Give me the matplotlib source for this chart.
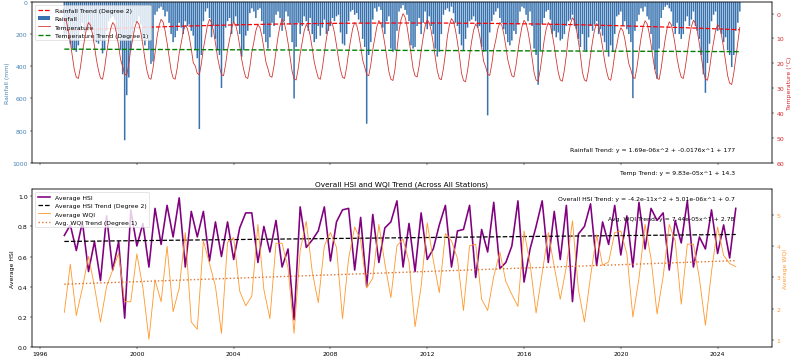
import numpy as np
import pandas as pd
import matplotlib
matplotlib.use("Agg")
import matplotlib.pyplot as plt
import matplotlib.dates as mdates

# monthly rainfall (mm), Jan..Dec, one line per year 1997-2024
rainfall_mm = [
    230, 200, 160, 260, 290, 300, 310, 270, 170, 130, 190, 160,
    180, 150, 170, 240, 250, 260, 240, 320, 300, 180, 120, 100,
    90, 110, 180, 200, 300, 450, 860, 580, 470, 300, 200, 130,
    120, 90, 140, 230, 270, 200, 300, 385, 370, 80, 60, 40,
    30, 50, 90, 60, 130, 200, 250, 220, 180, 130, 160, 200,
    120, 150, 140, 180, 210, 300, 350, 790, 330, 120, 60, 40,
    100, 220, 150, 230, 300, 330, 535, 300, 160, 120, 100, 200,
    130, 90, 150, 200, 340, 300, 210, 180, 70, 40, 60, 100,
    50, 40, 120, 200, 250, 290, 220, 130, 150, 80, 60, 100,
    180, 120, 60, 90, 140, 250, 600, 280, 130, 200, 150, 90,
    120, 180, 100, 200, 250, 230, 150, 210, 160, 110, 200, 180,
    150, 100, 120, 90, 80, 190, 260, 270, 200, 120, 60, 50,
    80, 70, 110, 130, 230, 280, 757, 330, 250, 110, 40, 60,
    30, 50, 160, 200, 120, 90, 290, 310, 300, 180, 60, 40,
    20, 50, 80, 120, 270, 290, 280, 150, 100, 200, 130, 60,
    170, 90, 150, 200, 290, 340, 310, 200, 80, 50, 40, 60,
    30, 70, 130, 150, 200, 270, 300, 230, 160, 120, 110, 90,
    120, 160, 150, 280, 310, 300, 705, 190, 120, 80, 60, 40,
    100, 130, 170, 200, 250, 270, 240, 180, 200, 140, 60, 30,
    40, 80, 120, 60, 150, 290, 330, 515, 300, 140, 100, 60,
    50, 110, 200, 180, 220, 190, 240, 230, 200, 150, 120, 110,
    80, 150, 170, 230, 280, 200, 300, 310, 220, 150, 180, 140,
    120, 200, 170, 210, 250, 300, 340, 270, 310, 200, 90, 80,
    60, 150, 120, 170, 200, 250, 598, 180, 120, 80, 40, 60,
    30, 90, 110, 200, 300, 420, 477, 290, 100, 50, 30, 20,
    40, 60, 150, 200, 130, 200, 230, 200, 120, 90, 150, 110,
    60, 150, 180, 230, 330, 450, 565, 380, 260, 120, 80, 60,
    180, 160, 200, 250, 220, 300, 330, 405, 330, 180, 130, 60,
]

# monthly mean temperature (deg C), same months
temperature_c = [
    2.0, 3.2, 6.5, 11.5, 17.0, 22.6, 25.6, 26.1, 21.6, 15.6, 10.6, 6.1,
    3.6, 4.8, 8.1, 13.1, 18.6, 22.9, 25.9, 26.4, 21.9, 15.9, 10.6, 6.1,
    3.6, 4.8, 8.1, 13.1, 18.6, 21.3, 24.3, 24.8, 20.3, 14.3, 10.1, 5.6,
    3.1, 4.3, 7.6, 12.6, 18.1, 22.9, 25.9, 26.4, 21.9, 15.9, 9.3, 4.8,
    2.3, 3.5, 6.8, 11.8, 17.3, 22.9, 25.9, 26.4, 21.9, 15.9, 11.7, 7.2,
    4.7, 5.9, 9.2, 14.2, 19.7, 21.1, 24.1, 24.6, 20.1, 14.1, 9.3, 4.8,
    2.3, 3.5, 6.8, 11.8, 17.3, 21.5, 24.5, 25.0, 20.5, 14.5, 10.4, 5.9,
    3.4, 4.6, 7.9, 12.9, 18.4, 22.6, 25.6, 26.1, 21.6, 15.6, 11.4, 6.9,
    4.4, 5.6, 8.9, 13.9, 19.4, 22.1, 25.1, 25.6, 21.1, 15.1, 9.3, 4.8,
    2.3, 3.5, 6.8, 11.8, 17.3, 23.2, 26.2, 26.7, 22.2, 16.2, 11.4, 6.9,
    4.4, 5.6, 8.9, 13.9, 19.4, 22.9, 25.9, 26.4, 21.9, 15.9, 10.1, 5.6,
    3.1, 4.3, 7.6, 12.6, 18.1, 22.6, 25.6, 26.1, 21.6, 15.6, 10.6, 6.1,
    3.6, 4.8, 8.1, 13.1, 18.6, 21.5, 24.5, 25.0, 20.5, 14.5, 9.8, 5.3,
    2.8, 4.0, 7.3, 12.3, 17.8, 23.4, 26.4, 26.9, 22.4, 14.5, 7.0, 2.5,
    0.0, 1.5, 5.0, 10.5, 16.0, 22.0, 25.0, 25.5, 21.0, 15.0, 9.5, 5.0,
    2.5, 3.7, 7.0, 12.0, 17.5, 23.1, 26.1, 26.6, 22.1, 16.1, 9.0, 4.5,
    2.0, 3.2, 6.5, 11.5, 17.0, 23.9, 26.9, 27.4, 22.9, 16.9, 11.2, 6.7,
    4.2, 5.4, 8.7, 13.7, 19.2, 21.4, 24.4, 24.9, 20.4, 14.4, 10.6, 6.1,
    3.6, 4.8, 8.1, 13.1, 18.6, 22.0, 25.0, 25.5, 21.0, 15.0, 9.7, 5.2,
    2.7, 3.9, 7.2, 12.2, 17.7, 23.7, 26.7, 27.2, 22.7, 16.7, 10.6, 6.1,
    3.6, 4.8, 8.1, 13.1, 18.6, 23.7, 26.7, 27.2, 22.7, 16.7, 8.7, 4.2,
    1.7, 2.9, 6.2, 11.2, 16.7, 23.7, 26.7, 27.2, 22.7, 16.7, 11.0, 6.5,
    4.0, 5.2, 8.5, 13.5, 19.0, 23.3, 26.3, 26.8, 22.3, 16.3, 12.7, 8.2,
    5.7, 6.9, 10.2, 15.2, 20.2, 22.6, 25.6, 26.1, 21.6, 15.6, 9.9, 5.4,
    2.9, 4.1, 7.4, 12.4, 17.9, 23.0, 26.0, 26.5, 22.0, 16.0, 10.3, 5.8,
    3.3, 4.5, 7.8, 12.8, 18.3, 22.6, 25.6, 26.1, 21.6, 15.6, 9.7, 5.2,
    2.7, 3.9, 7.2, 12.2, 17.7, 23.3, 26.3, 26.8, 22.3, 16.3, 11.4, 6.9,
    4.4, 5.6, 8.9, 13.9, 19.4, 25.0, 28.0, 28.5, 24.0, 18.0, 11.5, 5.5,
]

# quarterly averages across stations, 1997Q1-2024Q4
hsi_avg = [
    0.74, 0.81, 0.64, 0.83, 0.50, 0.70, 0.44, 0.87, 0.51, 0.70, 0.19, 0.91,
    0.67, 0.82, 0.53, 0.92, 0.68, 0.94, 0.73, 0.99, 0.53, 0.90, 0.73, 0.90,
    0.57, 0.83, 0.60, 0.83, 0.58, 0.79, 0.89, 0.89, 0.56, 0.80, 0.63, 0.84,
    0.53, 0.65, 0.18, 0.93, 0.66, 0.71, 0.77, 0.93, 0.57, 0.83, 0.91, 0.92,
    0.51, 0.86, 0.40, 0.88, 0.56, 0.79, 0.83, 0.97,
    0.53, 0.82, 0.50, 0.89, 0.58, 0.65, 0.81, 0.94, 0.53, 0.77, 0.78, 0.94,
    0.46, 0.78, 0.63, 0.96, 0.52, 0.56, 0.67, 0.97, 0.43, 0.65, 0.80, 0.97,
    0.56, 0.90, 0.58, 0.94, 0.30, 0.75, 0.80, 0.95, 0.54, 0.83, 0.68, 0.94,
    0.61, 0.87, 0.53, 0.96, 0.65, 0.92, 0.84, 0.89, 0.51, 0.84, 0.69, 0.97,
    0.53, 0.73, 0.65, 0.91, 0.62, 0.81, 0.59, 0.92,
]
wqi_avg = [
    1.88, 3.42, 1.78, 2.66, 3.67, 2.71, 1.57, 2.71, 3.23, 3.77, 2.22, 2.22,
    3.75, 2.66, 1.02, 2.92, 2.22, 3.99, 1.90, 2.66, 4.43, 1.57, 1.34, 4.17,
    3.44, 2.71, 1.21, 4.12, 4.27, 2.56, 2.09, 2.40, 4.69, 2.61, 1.68, 4.09,
    4.09, 3.29, 1.21, 3.86, 4.79, 3.18, 2.19, 4.01, 4.43, 3.96, 1.68, 3.60,
    4.61, 4.19, 2.66, 2.97, 4.69, 3.44, 2.35, 4.01,
    4.22, 3.49, 1.42, 2.71, 4.74, 3.55, 2.51, 4.40, 4.17, 3.60, 1.94, 4.01,
    4.06, 2.30, 1.94, 3.03, 3.81, 2.87, 2.45, 2.07, 4.48, 3.44, 1.86, 3.13,
    4.43, 3.34, 2.30, 3.34, 4.81, 2.61, 1.57, 3.03, 4.36, 3.39, 3.49, 4.43,
    4.48, 3.75, 1.73, 2.97, 4.69, 3.60, 1.83, 3.03, 4.69, 4.17, 2.14, 4.06,
    4.06, 2.97, 1.47, 3.18, 4.61, 3.70, 3.44, 3.34,
]

# fitted trend coefficients printed on the chart (x = days since first date)
rain_coef = [1.69e-06, -0.0176, 177]
temp_coef = [9.83e-05, 14.3]
hsi_coef = [-4.2e-11, 5.01e-06, 0.7]
wqi_coef = [7.44e-05, 2.78]

months = pd.date_range("1997-01-01", periods=len(rainfall_mm), freq="MS")
quarters = pd.date_range("1997-01-01", periods=len(hsi_avg), freq="QS")
month_days = np.asarray((months - months[0]).days, dtype=float)
quarter_days = np.asarray((quarters - quarters[0]).days, dtype=float)

fig, (ax1, ax3) = plt.subplots(2, 1, figsize=(18, 8.1), sharex=True,
                               gridspec_kw={"height_ratios": [161, 158]})
fig.subplots_adjust(left=0.04, right=0.965, top=0.992, bottom=0.034, hspace=0.163)

# rainfall / temperature panel
bars = ax1.bar(months, rainfall_mm, width=23, color="#3873b0", snap=False,
               linewidth=0, label="Rainfall")
rain_line, = ax1.plot(months, np.polyval(rain_coef, month_days), "--", color="red",
                      lw=2, label="Rainfall Trend (Degree 2)")
ax1.set_ylim(1000, 0)
ax1.set_ylabel("Rainfall (mm)", color="steelblue")
ax1.tick_params(axis="y", labelcolor="steelblue")

ax2 = ax1.twinx()
temp_line, = ax2.plot(months, temperature_c, color="#d0312d", lw=1.3, label="Temperature")
temp_trend, = ax2.plot(months, np.polyval(temp_coef, month_days), "--", color="green",
                       lw=2.2, label="Temperature Trend (Degree 1)")
ax2.set_ylim(60, -4.7)
ax2.set_ylabel("Temperature (°C)", color="tab:red")
ax2.tick_params(axis="y", labelcolor="tab:red")

ax1.legend(handles=[rain_line, bars, temp_line, temp_trend], loc="upper left")
ax1.text(0.95, 0.083, "Rainfall Trend: y = 1.69e-06x^2 + -0.0176x^1 + 177",
         transform=ax1.transAxes, ha="right", va="center")
ax1.text(0.95, -0.058, "Temp Trend: y = 9.83e-05x^1 + 14.3",
         transform=ax1.transAxes, ha="right", va="center")

# HSI / WQI panel
hsi_line, = ax3.plot(quarters, hsi_avg, color="purple", lw=2.6, label="Average HSI")
hsi_trend, = ax3.plot(quarters, np.polyval(hsi_coef, quarter_days), "--", color="black",
                      lw=2, label="Average HSI Trend (Degree 2)")
ax3.set_ylim(0, 1.05)
ax3.set_ylabel("Average HSI")
ax3.set_title("Overall HSI and WQI Trend (Across All Stations)")

ax4 = ax3.twinx()
wqi_line, = ax4.plot(quarters, wqi_avg, color="#ff9a2e", lw=1.4, label="Average WQI")
wqi_trend, = ax4.plot(quarters, np.polyval(wqi_coef, quarter_days), ":", color="#e0702a",
                      lw=2.2, label="Avg. WQI Trend (Degree 1)")
ax4.set_ylim(0.78, 5.83)
ax4.set_ylabel("Average WQI", color="#ff9a2e")
ax4.tick_params(axis="y", labelcolor="#ff9a2e")

ax3.legend(handles=[hsi_line, hsi_trend, wqi_line, wqi_trend], loc="upper left")
ax3.text(0.95, 0.938, "Overall HSI Trend: y = -4.2e-11x^2 + 5.01e-06x^1 + 0.7",
         transform=ax3.transAxes, ha="right", va="center")
ax4.text(0.95, 0.81, "Avg. WQI Trend: y = 7.44e-05x^1 + 2.78",
         transform=ax4.transAxes, ha="right", va="center")

ax3.xaxis.set_major_locator(mdates.YearLocator(4))
ax3.xaxis.set_major_formatter(mdates.DateFormatter("%Y"))
ax3.set_xlim(pd.Timestamp("1995-09-01"), pd.Timestamp("2026-04-01"))

fig.savefig("out.png", dpi=800 / 18)
